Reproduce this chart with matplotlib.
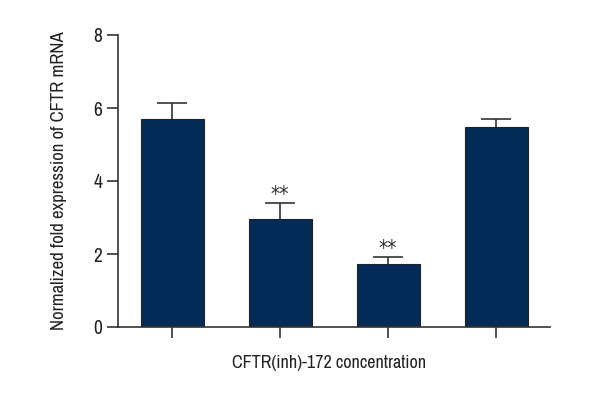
import matplotlib
matplotlib.use('Agg')
import matplotlib.pyplot as plt
from matplotlib import font_manager

# narrow face: look for one that is installed
fonts = font_manager.fontManager.ttflist
names = {f.name for f in fonts}
narrow = [f.name for f in fonts if 'narrow' in f.name.lower() or 'condensed' in f.name.lower()]
if 'Liberation Sans Narrow' in names:
    fam = 'Liberation Sans Narrow'
elif narrow:
    fam = narrow[0]
else:
    fam = 'DejaVu Sans'
plt.rcParams['font.family'] = [fam, 'DejaVu Sans']
plt.rcParams['font.stretch'] = 'condensed'

# data
groups = ['1', '2', '3', '4']
means = [5.70, 2.95, 1.73, 5.49]
sem = [0.45, 0.46, 0.20, 0.21]
marks = ['', '**', '**', '']

fig = plt.figure(figsize=(6, 4), dpi=100)
ax = fig.add_axes([0.197, 0.1825, 0.72, 0.73])

x = list(range(len(groups)))
# error bars behind the bars so only the upper half shows
ax.errorbar(x, means, yerr=sem, fmt='none', ecolor='#333333', elinewidth=1.2,
            capsize=10.5, capthick=1.2, zorder=1)
ax.bar(x, means, width=0.58, color='#032b57', edgecolor='#222222', linewidth=0.8, zorder=2)

for i in x:
    if marks[i]:
        ax.text(i, means[i] + sem[i] + 0.04, marks[i], ha='center', va='baseline',
                fontsize=15, color='#333333', family='DejaVu Sans')

ax.set_xlim(-0.5, 3.5)
ax.set_ylim(0, 8)
ax.set_yticks([0, 2, 4, 6, 8])
ax.set_xticks(x)
ax.set_xticklabels([])

for s in ['top', 'right']:
    ax.spines[s].set_visible(False)
for s in ['left', 'bottom']:
    ax.spines[s].set_color('#333333')
    ax.spines[s].set_linewidth(1.2)
ax.tick_params(axis='both', direction='out', length=8, width=1.2, color='#333333',
               labelsize=14, labelcolor='#222222')

ax.set_ylabel('Normalized fold expression of CFTR mRNA', fontsize=13.5, color='#222222')
ax.yaxis.set_label_coords(-0.118, 0.5)
ax.set_xlabel('CFTR(inh)-172 concentration', fontsize=13, color='#222222')
ax.xaxis.set_label_coords(0.487, -0.096)

plt.savefig('out.png', dpi=100)
